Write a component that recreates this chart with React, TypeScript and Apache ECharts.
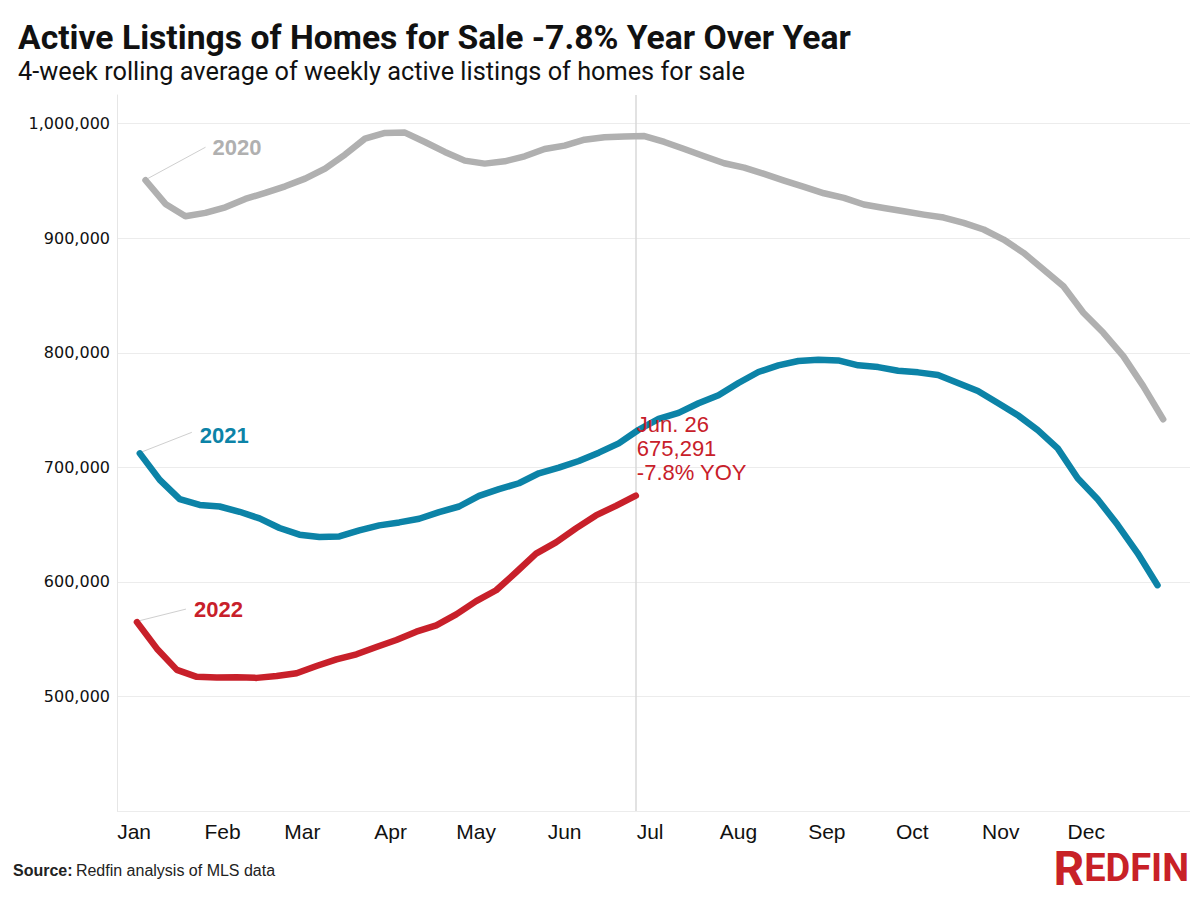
import React, { useEffect, useRef } from "react";
import * as echarts from "echarts";

const DAY = 86400000;

const monthLabels = ["Jan", "Feb", "Mar", "Apr", "May", "Jun", "Jul", "Aug", "Sep", "Oct", "Nov", "Dec"];
const yTickValues = [500000, 600000, 700000, 800000, 900000, 1000000];

const start2020 = "2020-01-05";
const start2021 = "2021-01-03";
const start2022 = "2022-01-02";

const values2020 = [
  950600, 929900, 919200, 922100, 927000, 934300, 939500, 945300, 952000, 960800, 973000, 986900, 991900,
  992200, 984000, 975300, 967700, 965100, 967100, 971500, 977900, 980800, 986000, 988100, 988700, 989200,
  984000, 977900, 971500, 965400, 961600, 956100, 950300, 944800, 939200, 935200, 929400, 926400, 923500,
  920600, 918000, 913400, 907600, 898800, 887200, 872700, 858000, 834900, 817400, 797100, 770900, 741900,
];
const values2021 = [
  712200, 689000, 672200, 667200, 665800, 661200, 655400, 647000, 641200, 639100, 639700, 644900, 649300,
  651900, 655100, 660900, 665800, 675100, 680900, 686100, 694800, 699700, 705500, 712800, 720900, 732800,
  742300, 747500, 755900, 762900, 773600, 783200, 789000, 792800, 793900, 793300, 789000, 787500, 784300,
  782900, 780600, 773600, 766700, 756200, 745500, 732400, 716500, 690400, 672200, 649800, 625200, 597100,
];
const values2022 = [
  564900, 541700, 523200, 517100, 516500, 516800, 516200, 517900, 520300, 526600, 532400, 536800, 543200,
  549300, 556500, 562000, 571600, 583200, 592700, 608400, 624600, 634500, 646700, 658000, 666400, 675291,
];

const seriesNames = ["2020", "2021", "2022"];
const seriesColors = ["#b0b0b0", "#0c83a7", "#c8202a"];
const calloutLines = ["Jun. 26", "675,291", "-7.8% YOY"];

// Day-of-year (0 = Jan 1) of each month start in a common (non-leap) calendar
const monthStartDays = monthLabels.map((_, i) => Math.round((Date.UTC(2022, i, 1) - Date.UTC(2022, 0, 1)) / DAY));

// Weekly points placed at their calendar position (day of year)
function weekly(start: string, vals: number[]) {
  const [y, m, d] = start.split("-").map(Number);
  const yearStart = Date.UTC(y, 0, 1);
  const t0 = Date.UTC(y, m - 1, d);
  return vals.map((v, i) => {
    const t = t0 + i * 7 * DAY;
    return [Math.round((t - yearStart) / DAY), v];
  });
}

const TITLE_FONT = "'Liberation Sans Narrow', 'Roboto', 'Liberation Sans', sans-serif";
const BODY_FONT = "'Liberation Sans', Arial, sans-serif";

export default function App() {
  const ref = useRef<HTMLDivElement>(null);

  useEffect(() => {
    document.body.style.margin = "0";
    if (!ref.current) return;
    const chart = echarts.init(ref.current, null, { renderer: "svg" });

    const d2020 = weekly(start2020, values2020);
    const d2021 = weekly(start2021, values2021);
    const d2022 = weekly(start2022, values2022);
    const datasets = [d2020, d2021, d2022];
    const last2022 = d2022[d2022.length - 1];

    chart.setOption({
      animation: false,
      backgroundColor: "#ffffff",
      grid: { left: 117, right: 10, top: 95, bottom: 89, containLabel: false },
      xAxis: {
        type: "value",
        min: -6,
        max: 370.4,
        axisLine: { show: false },
        axisTick: { show: false },
        splitLine: { show: false },
        axisLabel: {
          customValues: monthStartDays,
          formatter: (v: number) => {
            const idx = monthStartDays.indexOf(Math.round(v));
            return idx >= 0 ? monthLabels[idx] : "";
          },
          color: "#111111",
          fontSize: 21,
          fontFamily: BODY_FONT,
          margin: 10,
          hideOverlap: false,
        },
      },
      yAxis: {
        type: "value",
        min: 400000,
        max: 1025000,
        interval: 100000,
        axisLine: { show: true, onZero: false, lineStyle: { color: "#e6e6e6", width: 1 } },
        axisTick: { show: false },
        splitLine: { show: true, showMaxLine: false, lineStyle: { color: "#ececec", width: 1 } },
        axisLabel: {
          formatter: (v: number) => (yTickValues.includes(v) ? v.toLocaleString("en-US") : ""),
          color: "#111111",
          fontSize: 16,
          fontFamily: "'DejaVu Sans', sans-serif",
          margin: 7,
        },
      },
      series: datasets.map((data, i) => ({
        name: seriesNames[i],
        type: "line",
        data,
        showSymbol: false,
        z: 2 + i,
        lineStyle: { color: seriesColors[i], width: 6.5, cap: "round", join: "round" },
        itemStyle: { color: seriesColors[i] },
        emphasis: { disabled: true },
        markLine:
          i === 2
            ? {
                silent: true,
                symbol: ["none", "none"],
                label: { show: false },
                lineStyle: { color: "#d9d9d9", width: 1.5, type: "solid" },
                data: [{ xAxis: last2022[0] }],
                z: 1,
              }
            : undefined,
      })),
    });

    // Annotations anchored on the data through the chart's own scales
    const graphics: any[] = [];
    const yearOffsets = [
      { lx: 60, ly: -33, tx: 67, ty: -33 },
      { lx: 52, ly: -21, tx: 60, ty: -18 },
      { lx: 49, ly: -13, tx: 57, ty: -13 },
    ];
    datasets.forEach((data, i) => {
      const p = chart.convertToPixel({ gridIndex: 0 }, data[0] as any) as number[];
      const o = yearOffsets[i];
      graphics.push({
        type: "line",
        shape: { x1: p[0] + 1, y1: p[1] - 1, x2: p[0] + o.lx, y2: p[1] + o.ly },
        style: { stroke: "#cfcfcf", lineWidth: 1 },
        z: 1,
      });
      graphics.push({
        type: "text",
        x: p[0] + o.tx,
        y: p[1] + o.ty,
        style: {
          text: seriesNames[i],
          fill: seriesColors[i],
          font: `bold 22px ${BODY_FONT}`,
          verticalAlign: "middle",
          align: "left",
        },
        z: 10,
      });
    });
    const pe = chart.convertToPixel({ gridIndex: 0 }, last2022 as any) as number[];
    graphics.push({
      type: "text",
      x: pe[0] + 1,
      y: pe[1] - 83,
      style: {
        text: calloutLines.join("\n"),
        fill: "#c8202a",
        font: `22px ${BODY_FONT}`,
        lineHeight: 24,
        verticalAlign: "top",
        align: "left",
      },
      z: 10,
    });
    // Header, footer and logo
    graphics.push({
      type: "text",
      x: 18,
      y: 37,
      style: {
        text: "Active Listings of Homes for Sale -7.8% Year Over Year",
        fill: "#111111",
        font: `bold 33.7px ${TITLE_FONT}`,
        verticalAlign: "middle",
      },
    });
    graphics.push({
      type: "text",
      x: 18,
      y: 71,
      style: {
        text: "4-week rolling average of weekly active listings of homes for sale",
        fill: "#111111",
        font: `25.3px ${TITLE_FONT}`,
        verticalAlign: "middle",
      },
    });
    graphics.push({
      type: "text",
      x: 13,
      y: 870,
      style: {
        text: "{b|Source:} {r|Redfin analysis of MLS data}",
        verticalAlign: "middle",
        rich: {
          b: { font: `bold 16px ${BODY_FONT}`, fill: "#222222" },
          r: { font: `16px ${BODY_FONT}`, fill: "#222222" },
        },
      },
    });
    graphics.push({
      type: "text",
      x: 1189,
      y: 892,
      style: {
        text: "{a|R}{b|EDFIN}",
        align: "right",
        verticalAlign: "bottom",
        rich: {
          a: { font: `bold 48px ${TITLE_FONT}`, fill: "#c82127" },
          b: { font: `bold 38px ${TITLE_FONT}`, fill: "#c82127" },
        },
      },
    });

    chart.setOption({ graphic: graphics });

    return () => chart.dispose();
  }, []);

  return <div ref={ref} style={{ width: 1200, height: 900 }} />;
}
